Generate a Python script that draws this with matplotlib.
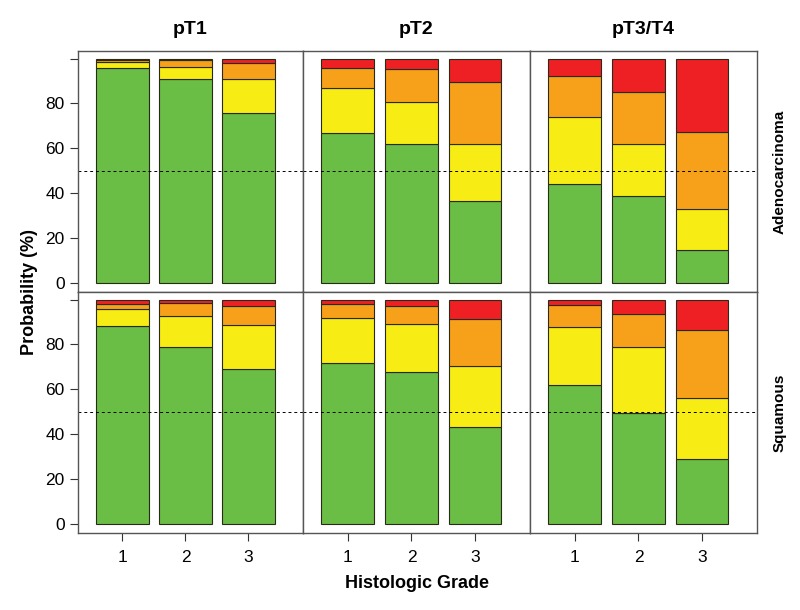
import numpy as np
import matplotlib
matplotlib.use("Agg")
from matplotlib import pyplot as plt

plt.rcParams['font.family'] = ['Liberation Sans', 'DejaVu Sans']

# Data (cumulative tops, %)
grades = [1, 2, 3]
stages = ["pT1", "pT2", "pT3/T4"]
histology = ["Adenocarcinoma", "Squamous"]

# adenocarcinoma: green height, yellow top, orange top per stage / grade
adeno_green = [[96.0, 90.9, 75.9], [67.0, 62.0, 36.6], [44.2, 38.8, 14.7]]
adeno_yellow_top = [[98.5, 96.3, 91.1], [86.7, 80.8, 62.0], [74.1, 62.0, 33.0]]
adeno_orange_top = [[99.4, 99.3, 98.1], [95.8, 95.4, 89.4], [92.4, 85.0, 67.4]]

squam_green = [[88.4, 79.0, 69.2], [71.9, 67.9, 43.3], [62.0, 49.6, 29.0]]
squam_yellow_top = [[95.8, 92.5, 88.8], [91.7, 89.1, 70.5], [87.9, 79.0, 56.2]]
squam_orange_top = [[98.1, 98.3, 97.3], [98.1, 97.3, 91.4], [97.6, 93.6, 86.5]]

colors = ["#6abd45", "#f7ec13", "#f7a11a", "#ee2024"]

data = [
    (adeno_green, adeno_yellow_top, adeno_orange_top),
    (squam_green, squam_yellow_top, squam_orange_top),
]

fig = plt.figure(figsize=(8.0, 6.1), dpi=100)

W, H = 800.0, 610.0
col_left = [78, 303, 530]
col_w = [225, 227, 227]
row_top = [51, 292]
row_h = 241

for r in range(2):
    green, ytop, otop = data[r]
    for c in range(3):
        ax = fig.add_axes([col_left[c] / W, 1 - (row_top[r] + row_h) / H,
                           col_w[c] / W, row_h / H])
        g = np.array(green[c])
        y = np.array(ytop[c])
        o = np.array(otop[c])
        segs = [g, y - g, o - y, 100 - o]
        bottoms = [np.zeros(3), g, y, o]
        for s, b, col in zip(segs, bottoms, colors):
            ax.bar(grades, s, bottom=b, width=0.83, color=col,
                   edgecolor="#2a2a1a", linewidth=0.8)
        ax.axhline(50, color="black", linestyle=(0, (3, 3)), linewidth=0.7)
        ax.set_xlim(0.294, 3.865)
        ax.set_ylim(-4.2, 103.4)
        for sp in ax.spines.values():
            sp.set_color("#555555")
            sp.set_linewidth(1.0)
        ax.tick_params(direction="out", length=6, width=0.8, color="#333333",
                       labelsize=12.5)
        if c == 0:
            ax.set_yticks([0, 20, 40, 60, 80, 100])
            ax.set_yticklabels(["0", "20", "40", "60", "80", ""])
        else:
            ax.set_yticks([])
        if r == 1:
            ax.set_xticks(grades)
            ax.set_xticklabels([str(v) for v in grades])
            ax.tick_params(axis="x", pad=6)
        else:
            ax.set_xticks([])
        if r == 0:
            ax.set_title(stages[c], fontsize=14, fontweight="bold", pad=12)
        if c == 2:
            ax.text(1.10, 0.5, histology[r], transform=ax.transAxes,
                    rotation=90, ha="center", va="center",
                    fontsize=11, fontweight="bold")

fig.text(30 / W, 1 - 292 / H, "Probability (%)", rotation=90, ha="center",
         va="center", fontsize=13, fontweight="bold")
fig.text(417 / W, 1 - 583 / H, "Histologic Grade", ha="center", va="center",
         fontsize=13, fontweight="bold")

fig.savefig("out.png", dpi=100)
